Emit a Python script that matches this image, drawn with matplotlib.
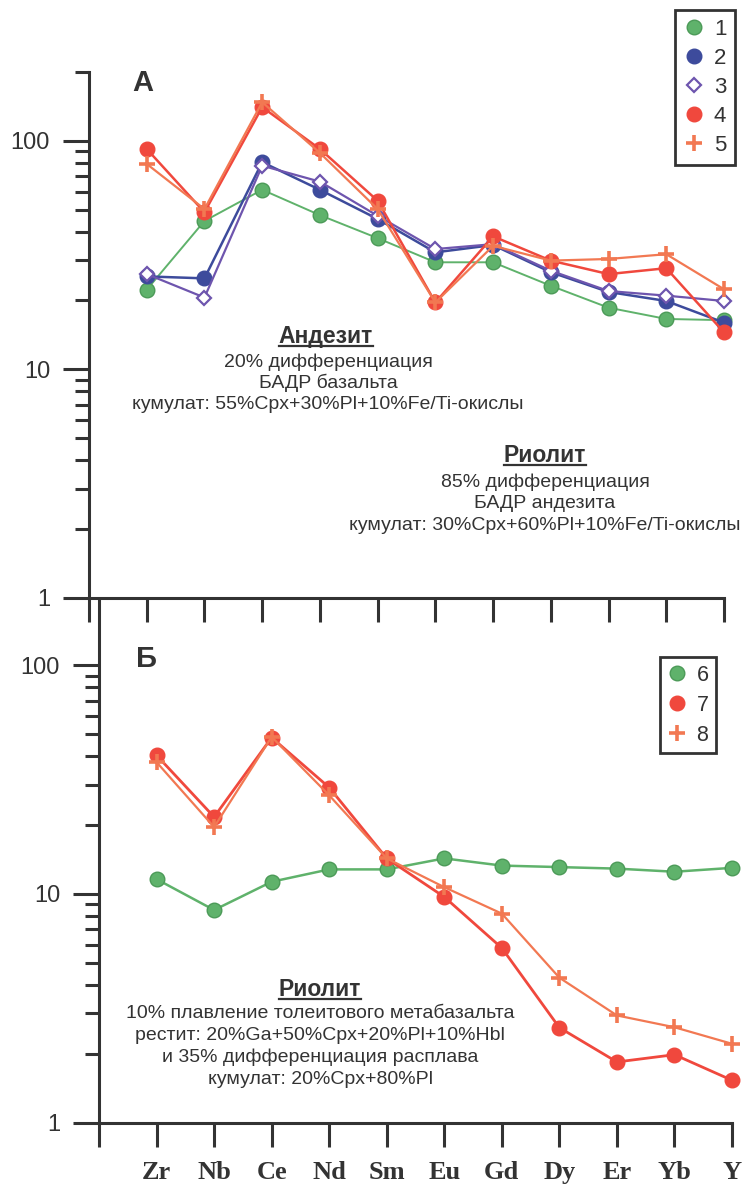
import matplotlib
matplotlib.use('Agg')
import matplotlib.pyplot as plt
from matplotlib.lines import Line2D
from matplotlib.ticker import LogLocator, NullFormatter, FixedLocator, FixedFormatter

plt.rcParams['font.family'] = ['Liberation Sans', 'DejaVu Sans']

elements = ['Zr', 'Nb', 'Ce', 'Nd', 'Sm', 'Eu', 'Gd', 'Dy', 'Er', 'Yb', 'Y']

# panel A: andesite / rhyolite models
s1 = [22.3, 44.6, 61.1, 47.3, 37.5, 29.4, 29.4, 23.2, 18.6, 16.6, 16.4]
s2 = [25.5, 25.0, 80.7, 61.1, 45.5, 32.5, 35.0, 26.6, 21.8, 19.9, 16.0]
s3 = [26.1, 20.6, 77.9, 66.3, 47.0, 33.6, 35.3, 27.0, 22.0, 21.0, 19.9]
s4 = [92.2, 48.7, 140.6, 92.2, 54.7, 19.6, 38.2, 29.9, 26.1, 27.7, 14.5]
s5 = [79.3, 50.3, 147.8, 88.6, 50.3, 19.6, 34.7, 29.9, 30.4, 31.9, 22.4]

# panel B: rhyolite from metabasalt melting
s6 = [11.6, 8.5, 11.3, 12.8, 12.8, 14.3, 13.3, 13.1, 12.9, 12.5, 13.0]
s7 = [40.4, 21.7, 48.3, 29.2, 14.3, 9.7, 5.8, 2.6, 1.84, 1.98, 1.53]
s8 = [37.7, 19.6, 48.6, 27.0, 14.3, 10.7, 8.2, 4.3, 2.94, 2.61, 2.21]

GREEN = '#5fb26b'
BLUE = '#3d4b9c'
PURPLE = '#6e55ae'
RED = '#f0483d'
ORANGE = '#f27852'
INK = '#333333'

W, H = 750, 1184
fig = plt.figure(figsize=(W / 100, H / 100), dpi=100)
fig.patch.set_facecolor('white')


def px_axes(left, right, top, bottom):
    return fig.add_axes([left / W, 1 - bottom / H, (right - left) / W, (bottom - top) / H])


styles = {
    '1': dict(color=GREEN, marker='o', ms=10.5, mfc=GREEN, mec='#4c9a58', lw=1.4),
    '2': dict(color=BLUE, marker='o', ms=10.5, mfc=BLUE, mec=BLUE, lw=1.8),
    '3': dict(color=PURPLE, marker='D', ms=7.5, mfc='white', mec=PURPLE, mew=1.6, lw=1.6),
    '4': dict(color=RED, marker='o', ms=10.5, mfc=RED, mec=RED, lw=1.8),
    '5': dict(color=ORANGE, marker='+', ms=12, mec=ORANGE, mew=2.6, lw=1.6),
    '6': dict(color=GREEN, marker='o', ms=10.5, mfc=GREEN, mec='#4c9a58', lw=1.8),
    '7': dict(color=RED, marker='o', ms=10.5, mfc=RED, mec=RED, lw=2.0),
    '8': dict(color=ORANGE, marker='+', ms=12, mec=ORANGE, mew=2.6, lw=1.6),
}


def style_axes(ax, top_lim, show_labels):
    ax.set_yscale('log')
    ax.set_ylim(1, top_lim)
    ax.set_xlim(0, 11)
    for side in ('top', 'right'):
        ax.spines[side].set_visible(False)
    for side in ('left', 'bottom'):
        ax.spines[side].set_linewidth(2.2)
        ax.spines[side].set_color(INK)
    ax.yaxis.set_major_locator(FixedLocator([1, 10, 100]))
    ax.yaxis.set_major_formatter(FixedFormatter(['1', '10', '100']))
    ax.yaxis.set_minor_locator(LogLocator(base=10, subs=range(2, 10)))
    ax.yaxis.set_minor_formatter(NullFormatter())
    ax.tick_params(axis='y', which='major', length=19, width=2.2, color=INK,
                   direction='out', pad=9, labelsize=17, labelcolor=INK)
    ax.tick_params(axis='y', which='minor', length=10, width=2.2, color=INK,
                   direction='out')
    ax.set_xticks(range(12))
    if show_labels:
        ax.set_xticklabels([''] + elements, fontfamily='Liberation Serif',
                           fontweight='bold', fontsize=19, color=INK)
    else:
        ax.set_xticklabels([])
    ax.tick_params(axis='x', which='major', length=17, width=2.2, color=INK,
                   direction='out', pad=11)
    ax.patch.set_alpha(0)


xs = range(1, 12)

# --- panel A ---
axA = px_axes(89, 724, 72.2, 597.5)
style_axes(axA, 200, False)
for name, vals in zip('12345', [s1, s2, s3, s4, s5]):
    axA.plot(xs, vals, clip_on=False, zorder=3, **styles[name])

# --- panel B ---
axB = px_axes(99, 732, 599, 1122.5)
style_axes(axB, 195, True)
for name, vals in zip('678', [s6, s7, s8]):
    axB.plot(xs, vals, clip_on=False, zorder=3, **styles[name])


def legend_handles(names):
    hs = []
    for n in names:
        st = dict(styles[n])
        st.pop('lw', None)
        st.pop('color', None)
        hs.append(Line2D([], [], linestyle='none', label=n, **st))
    return hs


legend_specs = [
    (axA, '12345', (675, 10), 16, 0.36, 0.4),
    (axB, '678', (660, 657), 15.5, 0.42, 0.35),
]
for ax, names, anchor, fsize, lspace, bpad in legend_specs:
    leg = ax.legend(handles=legend_handles(names), loc='upper left',
                    bbox_to_anchor=(anchor[0] / W, 1 - anchor[1] / H),
                    bbox_transform=fig.transFigure, borderaxespad=0,
                    fontsize=fsize, handlelength=0.9, handletextpad=0.45,
                    labelspacing=lspace, borderpad=bpad, fancybox=False,
                    frameon=True, framealpha=1)
    leg.get_frame().set_edgecolor(INK)
    leg.get_frame().set_linewidth(2.0)
    for t in leg.get_texts():
        t.set_color(INK)


def ftext(x, y, s, **kw):
    kw.setdefault('color', INK)
    kw.setdefault('ha', 'center')
    kw.setdefault('va', 'center')
    return fig.text(x / W, 1 - y / H, s, **kw)


ftext(143, 83, 'А', fontsize=21, fontweight='bold')
ftext(146, 659, 'Б', fontsize=21, fontweight='bold')

headings = []
headings.append(ftext(326, 336, 'Андезит', fontsize=16.5, fontweight='bold'))
ftext(328, 362, '20% дифференциация', fontsize=14)
ftext(328, 383, 'БАДР базальта', fontsize=14)
ftext(328, 405, 'кумулат: 55%Cpx+30%Pl+10%Fe/Ti-окислы', fontsize=14)

headings.append(ftext(545, 455, 'Риолит', fontsize=16.5, fontweight='bold'))
ftext(545, 482, '85% дифференциация', fontsize=14)
ftext(545, 504, 'БАДР андезита', fontsize=14)
ftext(545, 526, 'кумулат: 30%Cpx+60%Pl+10%Fe/Ti-окислы', fontsize=14)

headings.append(ftext(320, 989, 'Риолит', fontsize=16.5, fontweight='bold'))
ftext(320, 1014, '10% плавление толеитового метабазальта', fontsize=14)
ftext(320, 1035, 'рестит: 20%Ga+50%Cpx+20%Pl+10%Hbl', fontsize=14)
ftext(320, 1057, 'и 35% дифференциация расплава', fontsize=14)
ftext(320, 1079, 'кумулат: 20%Cpx+80%Pl', fontsize=14)

# underline the bold headings
fig.canvas.draw()
inv = fig.transFigure.inverted()
for t in headings:
    bb = t.get_window_extent()
    (x0, y0), (x1, _) = inv.transform([(bb.x0, bb.y0), (bb.x1, bb.y1)])
    fig.add_artist(Line2D([x0, x1], [y0 + 1.5 / H, y0 + 1.5 / H],
                          transform=fig.transFigure, color=INK, lw=1.6))

fig.savefig('out.png', dpi=100, facecolor='white')
